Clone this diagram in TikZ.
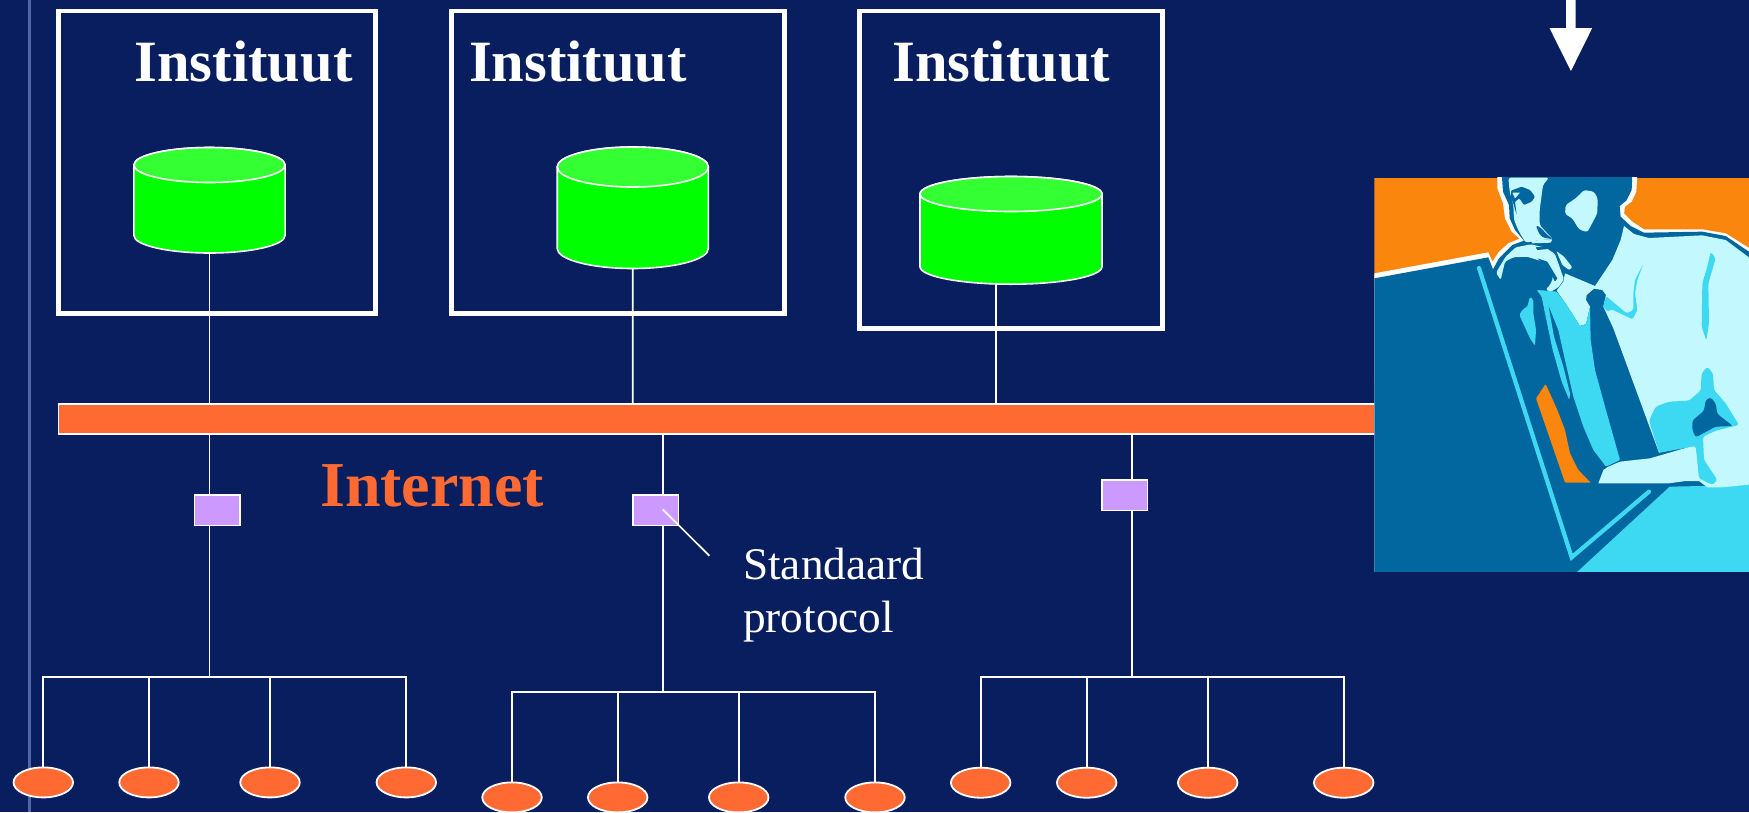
\documentclass[tikz,border=0pt]{standalone}
\usepackage{fontspec}
\setmainfont{Liberation Serif}
\usetikzlibrary{shapes.geometric}
\definecolor{bgblue}{HTML}{081E5E}
\definecolor{sideline}{HTML}{5266A6}
\definecolor{netorange}{HTML}{FF6A33}
\definecolor{protopurple}{HTML}{CC99FF}
\definecolor{dbtop}{HTML}{33FF33}
\definecolor{dbbody}{HTML}{00FF00}
\definecolor{manorange}{HTML}{FA860D}
\definecolor{mandark}{HTML}{02669F}
\definecolor{manlight}{HTML}{C4F8FF}
\definecolor{manmid}{HTML}{3DD9F3}
\tikzset{
  instbox/.style={draw=white,line width=4.5pt,fill=none,anchor=north west,inner sep=0pt,outer sep=0pt},
  dbline/.style={draw=white,line width=1.6pt},
  netbar/.style={draw=white,line width=1.5pt,fill=netorange,anchor=north west,inner sep=0pt,outer sep=0pt,minimum width=1316pt,minimum height=30pt},
  protobox/.style={draw=white,line width=1.8pt,fill=protopurple,anchor=north west,inner sep=0pt,outer sep=0pt,minimum width=45.5pt,minimum height=30.5pt},
  hostnode/.style={ellipse,draw=white,line width=1.8pt,fill=netorange,inner sep=0pt,outer sep=0pt,minimum width=59.5pt,minimum height=30pt},
  wire/.style={draw=white,line width=1.7pt},
  insttext/.style={anchor=base west,inner sep=0pt,text=white,font=\fontsize{58.5}{60}\selectfont\bfseries},
  nettext/.style={anchor=base west,inner sep=0pt,text=netorange,font=\fontsize{64}{66}\selectfont\bfseries},
  prototext/.style={anchor=base west,inner sep=0pt,text=white,font=\fontsize{45.3}{47}\selectfont},
}
% name, centre x, x radius, top ellipse centre y, bottom ellipse centre y, y radius
\newcommand{\dbcyl}[6]{%
  \path[dbline,fill=dbbody] ({#2-#3},#4) -- ({#2-#3},#5)
     arc[start angle=180,end angle=360,x radius=#3pt,y radius=#6pt]
     -- ({#2+#3},#4)
     arc[start angle=0,end angle=180,x radius=#3pt,y radius=#6pt] -- cycle;
  \path[dbline,fill=dbtop] (#2,#4) ellipse[x radius=#3pt,y radius=#6pt];
  \node[inner sep=0pt,outer sep=0pt,minimum width={2*#3*1pt},minimum height={(#5-#4+2*#6)*1pt}] (#1) at (#2,{(#4+#5)/2}) {};
}
\begin{document}
\begin{tikzpicture}[x=1pt,y=-1pt]
\useasboundingbox (0,0) rectangle (1749,812);
\fill[bgblue] (0,0) rectangle (1749,812);
\draw[sideline,line width=2.6pt] (29.7,0) -- (29.7,812);

% institutes
\node[instbox,minimum width=317pt,minimum height=302.5pt] (box1) at (58.7,11.2) {};
\node[instbox,minimum width=333pt,minimum height=302.5pt] (box2) at (451.5,11.2) {};
\node[instbox,minimum width=303pt,minimum height=317.5pt] (box3) at (859.5,11.2) {};
\node[insttext] (t1) at (134.5,81.7) {Instituut};
\node[insttext] (t2) at (468.8,81.7) {Instituut};
\node[insttext] (t3) at (892.2,81.7) {Instituut};

\dbcyl{db1}{209.5}{75.6}{165}{235.5}{17.5}
\dbcyl{db2}{632.8}{75.6}{167}{248.5}{20}
\dbcyl{db3}{1011}{91}{194}{266.7}{17.5}

% internet bar
\node[netbar] (bar) at (58.4,404.2) {};
\node[nettext] (inet) at (320,506) {Internet};

% named wire ends
\coordinate (up1) at (209.5,404.2);
\coordinate (up2) at (632.7,404.2);
\coordinate (up3) at (996,404.2);
\coordinate (dn1) at (209.5,434.8);
\coordinate (dn2) at (663.3,434.8);
\coordinate (dn3) at (1132,434.8);
\coordinate (j1) at (209.5,676.7);
\coordinate (j2) at (663.3,691.7);
\coordinate (j3) at (1132,676.7);
\coordinate (calloutA) at (662.7,509.3);
\coordinate (calloutB) at (709.3,555.7);

\draw[wire] (db1.south) -- (up1);
\draw[wire] (db2.south) -- (up2);
\draw[wire] (db3.south -| up3) -- (up3);
\draw[wire] (dn1) -- (j1);
\draw[wire] (dn2) -- (j2);
\draw[wire] (dn3) -- (j3);

% protocol converters
\node[protobox] (p1) at (194.4,495) {};
\node[protobox] (p2) at (632.9,495) {};
\node[protobox] (p3) at (1101.9,480) {};

% hosts
\foreach \n/\x in {a/43.3,b/149,c/270,d/406.3}{\node[hostnode] (h1\n) at (\x,782.4) {};}
\foreach \n/\x in {a/512,b/617.7,c/738.7,d/875}{\node[hostnode] (h2\n) at (\x,797.4) {};}
\foreach \n/\x in {a/980.7,b/1086.7,c/1207.7,d/1343.7}{\node[hostnode] (h3\n) at (\x,782.7) {};}
\foreach \g in {1,2,3}{
  \draw[wire] (h\g a.north) -- (h\g a.north |- j\g) -- (h\g d.north |- j\g) -- (h\g d.north);
  \draw[wire] (h\g b.north) -- (h\g b.north |- j\g);
  \draw[wire] (h\g c.north) -- (h\g c.north |- j\g);
}

\draw[wire] (calloutA) -- (calloutB);
\node[prototext] (s1) at (743,579) {Standaard};
\node[prototext] (s2) at (743,632.3) {protocol};

% arrow at top right
\fill[white] (1566,0) -- (1575.7,0) -- (1575.7,28) -- (1592.2,28) -- (1570.9,71) -- (1549.5,28) -- (1566,28) -- cycle;

% man at the book (coordinates in 3x units of the crop)
\begin{scope}[shift={(1349,150)},x=0.33333pt,y=-0.33333pt,rounded corners=2.5pt]
\begin{scope}
\clip[sharp corners] (76,83) rectangle (1200,1265);
\fill[manorange,sharp corners] (76,83) rectangle (1200,700);
% white outline
\fill[white,sharp corners] (76,370) -- (418,307) -- (430,335) -- (450,305) -- (478,280) -- (512,266) -- (488,245) -- (468,205) -- (462,160) -- (445,115) -- (445,70) -- (865,70) -- (862,125) -- (848,155) -- (828,170) -- (825,190) -- (850,215) -- (885,238) -- (1060,238) -- (1130,250) -- (1210,300) -- (1210,1270) -- (76,1270) -- cycle;
% dark figure and book
\fill[mandark,sharp corners] (76,385) -- (418,322) -- (432,358) -- (450,325) -- (490,285) -- (525,272) -- (498,240) -- (482,205) -- (480,165) -- (462,125) -- (458,70) -- (850,70) -- (848,120) -- (832,152) -- (812,168) -- (815,200) -- (845,228) -- (885,248) -- (1060,245) -- (1130,258) -- (1210,312) -- (1210,1270) -- (76,1270) -- cycle;
% table
\fill[manmid,sharp corners] (680,1270) -- (962,1010) -- (1210,1005) -- (1210,1270) -- cycle;
% shirt, with the collar running under the chin
\fill[manlight,sharp corners] (825,228) -- (855,252) -- (900,264) -- (1060,256) -- (1130,270) -- (1210,330) -- (1210,1003) -- (1120,1012) -- (1075,1012) -- (1050,993) -- (1010,993) -- (960,1000) -- (748,1000) -- (763,960) -- (778,950) -- (813,935) -- (903,925) -- (1030,888) -- (930,908) -- (793,535) -- (763,470) -- (771,435) -- (760,420) -- (735,416) -- (713,435) -- (711,450) -- (723,470) -- (711,522) -- (693,528) -- (653,465) -- (623,422) -- (643,395) -- (648,370) -- (738,408) -- (790,330) -- (815,270) -- cycle;
% vest with sliver
\fill[manmid,rounded corners=1pt] (563,420) -- (593,422) -- (623,425) -- (653,465) -- (693,528) -- (711,522) -- (723,470) -- (725,570) -- (738,660) -- (768,770) -- (813,930) -- (771,950) -- (733,900) -- (703,830) -- (673,740) -- (648,630) -- (628,540) -- (598,465) -- (615,560) -- (643,650) -- (663,730) -- (661,750) -- (638,695) -- (611,600) -- (588,490) -- (578,440) -- cycle;
% face
\fill[manlight] (478,83) -- (600,83) -- (582,105) -- (572,180) -- (572,225) -- (590,245) -- (612,268) -- (570,270) -- (545,275) -- (530,278) -- (510,245) -- (495,210) -- (493,165) -- (482,125) -- cycle;
\fill[mandark,rounded corners=1pt] (486,122) -- (518,110) -- (543,120) -- (558,140) -- (548,155) -- (525,165) -- (511,145) -- (498,155) -- (503,195) -- (493,160) -- (486,145) -- cycle;
\fill[manlight,rounded corners=0.5pt] (490,128) -- (513,128) -- (498,145) -- cycle;
\fill[mandark] (560,225) -- (578,235) -- (590,250) -- (612,268) -- (580,262) -- (570,250) -- cycle;
% ear
\fill[manlight] (705,120) -- (735,125) -- (746,145) -- (745,190) -- (715,247) -- (690,238) -- (670,205) -- (648,192) -- (650,165) -- (680,145) -- cycle;
% hand
\fill[manlight,rounded corners=1.5pt] (441,368) -- (470,320) -- (500,292) -- (545,283) -- (590,293) -- (618,312) -- (635,360) -- (645,388) -- (628,412) -- (605,425) -- (590,418) -- (603,405) -- (612,385) -- (603,355) -- (583,335) -- (533,320) -- (493,322) -- (468,335) -- (455,390) -- cycle;
\fill[manlight,rounded corners=1pt] (622,303) -- (645,320) -- (670,352) -- (660,360) -- (640,345) -- cycle;
\fill[manlight,rounded corners=0.5pt] (545,272) -- (610,268) -- (605,278) -- (550,280) -- cycle;
\fill[mandark,rounded corners=0.5pt] (560,292) -- (605,288) -- (607,296) -- (565,300) -- cycle;
\fill[mandark,rounded corners=0.5pt] (565,325) -- (595,335) -- (625,385) -- (618,395) -- (600,360) -- cycle;
% book details
\fill[manorange,rounded corners=1pt] (590,702) -- (561,745) -- (648,998) -- (725,998) -- (688,960) -- (663,910) -- (648,840) -- (625,780) -- cycle;
\draw[manmid,line width=4.2pt,line cap=round,line join=miter,sharp corners] (390,354) -- (668,1222) -- (900,1025);
\fill[manmid,rounded corners=1.5pt] (543,440) -- (553,450) -- (553,490) -- (561,540) -- (558,588) -- (543,565) -- (511,495) -- (521,478) -- (535,470) -- cycle;
% shirt folds
\fill[manmid,rounded corners=1.5pt] (883,342) -- (865,390) -- (858,430) -- (865,480) -- (851,508) -- (813,490) -- (788,478) -- (775,485) -- (763,470) -- (771,438) -- (803,465) -- (833,490) -- (853,480) -- (853,430) -- (858,390) -- cycle;
\fill[manmid] (1085,305) -- (1100,325) -- (1078,400) -- (1080,520) -- (1072,572) -- (1058,530) -- (1060,400) -- (1075,350) -- cycle;
\fill[manmid] (900,812) -- (920,770) -- (960,755) -- (1020,752) -- (1055,722) -- (1058,670) -- (1075,650) -- (1092,670) -- (1095,720) -- (1130,760) -- (1170,825) -- (1100,842) -- (1062,860) -- (1065,930) -- (1105,990) -- (1090,1005) -- (1050,985) -- (1040,888) -- (930,908) -- cycle;
\fill[mandark] (1030,812) -- (1065,782) -- (1070,750) -- (1085,742) -- (1100,760) -- (1105,792) -- (1152,828) -- (1100,830) -- (1040,862) -- (1030,840) -- cycle;
\end{scope}
\end{scope}
\end{tikzpicture}
\end{document}
